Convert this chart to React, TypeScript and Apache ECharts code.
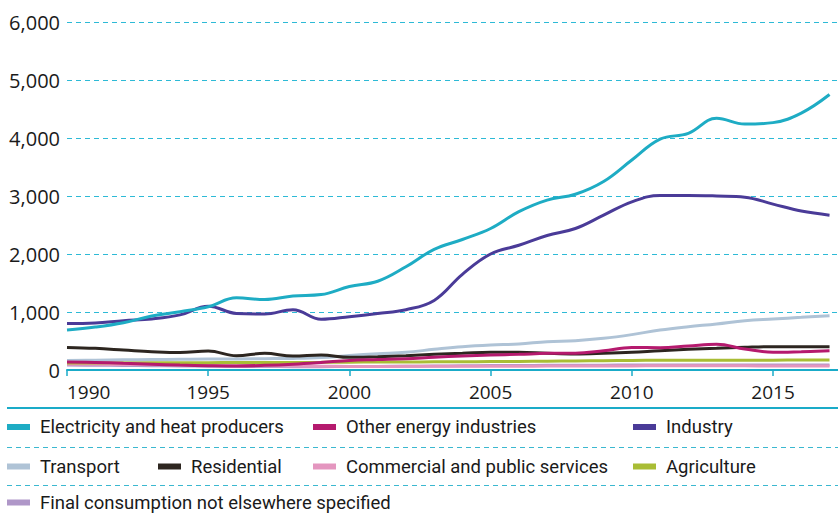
import React, { useEffect, useRef } from "react";
import * as echarts from "echarts";

const years = [1990, 1991, 1992, 1993, 1994, 1995, 1996, 1997, 1998, 1999, 2000, 2001, 2002, 2003, 2004, 2005, 2006, 2007, 2008, 2009, 2010, 2011, 2012, 2013, 2014, 2015, 2016, 2017];
const tickYears = [1990, 1995, 2000, 2005, 2010, 2015];

const electricity = [690, 740, 815, 930, 1005, 1090, 1245, 1215, 1275, 1300, 1440, 1530, 1780, 2080, 2250, 2440, 2730, 2930, 3030, 3250, 3620, 3980, 4080, 4340, 4240, 4265, 4430, 4750];
const otherEnergy = [140, 130, 115, 100, 85, 75, 70, 80, 100, 130, 165, 180, 195, 220, 241, 258, 270, 287, 290, 333, 388, 385, 414, 443, 362, 305, 316, 333];
const industry = [800, 810, 850, 880, 950, 1100, 975, 965, 1040, 875, 920, 975, 1040, 1200, 1650, 2000, 2150, 2320, 2440, 2670, 2900, 3010, 3010, 3000, 2980, 2860, 2740, 2670];
const transport = [165, 170, 175, 180, 185, 190, 190, 195, 200, 215, 250, 280, 305, 356, 402, 431, 448, 489, 506, 546, 610, 690, 747, 793, 850, 880, 908, 937];
const residential = [390, 373, 345, 316, 300, 328, 245, 287, 240, 258, 218, 230, 247, 270, 287, 305, 305, 287, 276, 287, 305, 333, 356, 373, 391, 402, 402, 402];
const commercial = [100, 98, 95, 92, 88, 82, 75, 72, 68, 65, 62, 62, 63, 64, 65, 66, 66, 67, 67, 68, 70, 72, 72, 73, 72, 70, 70, 70];
const agriculture = [120, 122, 124, 125, 126, 127, 128, 128, 130, 132, 135, 137, 139, 141, 143, 145, 148, 152, 156, 160, 165, 167, 168, 169, 170, 170, 171, 172];
const finalConsumption = [85, 82, 78, 74, 70, 66, 62, 60, 58, 58, 60, 62, 64, 68, 72, 76, 78, 80, 82, 84, 86, 88, 88, 88, 87, 86, 86, 86];

const seriesDefs = [
  { name: "Final consumption not elsewhere specified", data: finalConsumption, color: "#AF97C8" },
  { name: "Commercial and public services", data: commercial, color: "#E496BF" },
  { name: "Agriculture", data: agriculture, color: "#A9BD35" },
  { name: "Transport", data: transport, color: "#AFC3D6" },
  { name: "Residential", data: residential, color: "#2D2620" },
  { name: "Other energy industries", data: otherEnergy, color: "#B51A6E" },
  { name: "Industry", data: industry, color: "#4A3B98" },
  { name: "Electricity and heat producers", data: electricity, color: "#1EACC4" },
];

const legendLayout = [
  { name: "Electricity and heat producers", left: 7, row: 0 },
  { name: "Other energy industries", left: 313, row: 0 },
  { name: "Industry", left: 633, row: 0 },
  { name: "Transport", left: 7, row: 1 },
  { name: "Residential", left: 158, row: 1 },
  { name: "Commercial and public services", left: 313, row: 1 },
  { name: "Agriculture", left: 633, row: 1 },
  { name: "Final consumption not elsewhere specified", left: 7, row: 2 },
];
const rowCenters = [427, 466.5, 502.5];

const legendFont = "Roboto, 'Noto Sans', sans-serif";
const axisFont = "'Open Sans', 'Noto Sans', sans-serif";

export default function App() {
  const ref = useRef<HTMLDivElement>(null);
  useEffect(() => {
    if (!ref.current) return;
    const chart = echarts.init(ref.current, undefined, { renderer: "svg" });
    const option: any = {
      animation: false,
      grid: { left: 67, right: 0, top: 22, bottom: 150, containLabel: false },
      xAxis: {
        type: "value",
        min: 1990,
        max: 2017.3,
        interval: 5,
        axisLine: { show: true, lineStyle: { color: "#1AABC8", width: 2 } },
        axisTick: { show: true, length: 6, lineStyle: { color: "#1AABC8", width: 1.5 }, customValues: tickYears },
        axisLabel: {
          customValues: tickYears,
          formatter: (v: number) => (v % 5 === 0 ? String(v) : ""),
          alignMinLabel: "left",
          color: "#1a1a1a",
          fontSize: 19,
          fontFamily: axisFont,
          margin: 12,
        },
        splitLine: { show: false },
      },
      yAxis: {
        type: "value",
        min: 0,
        max: 6000,
        interval: 1000,
        axisLine: { show: false },
        axisTick: { show: false },
        axisLabel: {
          formatter: (v: number) => v.toLocaleString("en-US"),
          color: "#1a1a1a",
          fontSize: 20,
          fontFamily: axisFont,
          margin: 7,
        },
        splitLine: { show: true, lineStyle: { color: "#2DBAD6", width: 1, type: [5, 4] } },
      },
      legend: legendLayout.map((l) => ({
        data: [l.name],
        left: l.left,
        top: rowCenters[l.row] - 10,
        padding: 0,
        itemWidth: 23,
        itemHeight: 6,
        icon: "rect",
        selectedMode: false,
        textStyle: {
          color: "#1a1a1a",
          fontSize: 18.5,
          lineHeight: 20,
          fontFamily: legendFont,
          padding: [0, 0, 0, 5],
        },
      })),
      graphic: [
        { type: "line", shape: { x1: 7, y1: 408, x2: 838, y2: 408 }, style: { stroke: "#1AABC8", lineWidth: 2 } },
        { type: "line", shape: { x1: 7, y1: 447.5, x2: 838, y2: 447.5 }, style: { stroke: "#3BB8D0", lineWidth: 1, lineDash: [5, 4] } },
        { type: "line", shape: { x1: 7, y1: 485.5, x2: 838, y2: 485.5 }, style: { stroke: "#3BB8D0", lineWidth: 1, lineDash: [5, 4] } },
      ],
      series: seriesDefs.map((s) => ({
        name: s.name,
        type: "line",
        data: years.map((y, i) => [y, s.data[i]]),
        smooth: 0.4,
        showSymbol: false,
        lineStyle: { color: s.color, width: 3 },
        itemStyle: { color: s.color },
      })),
    };
    chart.setOption(option);
    return () => chart.dispose();
  }, []);
  return <div ref={ref} style={{ position: "absolute", left: 0, top: 0, width: 838, height: 520 }} />;
}
